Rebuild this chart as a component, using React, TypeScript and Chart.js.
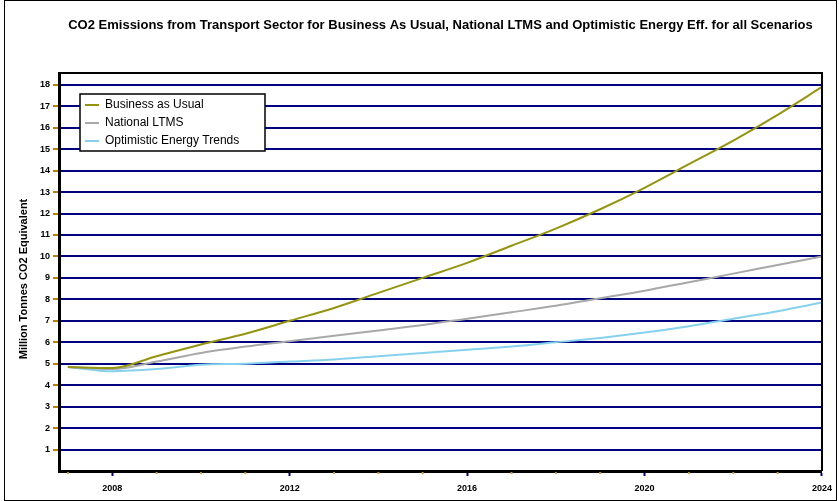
import React, { useEffect, useRef } from 'react';
import { Chart, registerables } from 'chart.js';

Chart.register(...registerables);

const TITLE =
  'CO2 Emissions from Transport Sector for Business As Usual, National LTMS and Optimistic Energy Eff. for all Scenarios';
const Y_TITLE = 'Million Tonnes CO2 Equivalent';

const years = [2007, 2008, 2009, 2010, 2011, 2012, 2013, 2014, 2015, 2016, 2017, 2018, 2019, 2020, 2021, 2022, 2023, 2024];
const seriesNames = ['Business as Usual', 'National LTMS', 'Optimistic Energy Trends'];
const seriesColors = ['#949410', '#a8a8a8', '#86d2ee'];
const bau = [4.85, 4.8, 5.35, 5.9, 6.4, 7.0, 7.6, 8.3, 9.0, 9.7, 10.5, 11.3, 12.2, 13.2, 14.3, 15.4, 16.6, 17.9];
const ltms = [4.85, 4.75, 5.1, 5.5, 5.8, 6.05, 6.3, 6.55, 6.8, 7.1, 7.4, 7.7, 8.05, 8.4, 8.8, 9.2, 9.6, 10.0];
const optimistic = [4.85, 4.65, 4.75, 4.95, 5.0, 5.1, 5.2, 5.35, 5.5, 5.65, 5.8, 6.0, 6.2, 6.45, 6.75, 7.1, 7.45, 7.85];
const xMajorTicks = [2008, 2012, 2016, 2020, 2024];
const yTickValues = [1, 2, 3, 4, 5, 6, 7, 8, 9, 10, 11, 12, 13, 14, 15, 16, 17, 18];

const FONT = '"Liberation Sans", Arial, sans-serif';

export default function App() {
  const ref = useRef<HTMLCanvasElement>(null);

  useEffect(() => {
    document.body.style.margin = '0';
    const canvas = ref.current!;
    const series = [bau, ltms, optimistic];

    const framePlugin = {
      id: 'frame',
      afterDraw(chart: any) {
        const ctx = chart.ctx as CanvasRenderingContext2D;
        const a = chart.chartArea;
        ctx.save();
        // plot frame (top & right)
        ctx.strokeStyle = '#000';
        ctx.lineWidth = 2;
        ctx.beginPath();
        ctx.moveTo(a.left, a.top);
        ctx.lineTo(a.right, a.top);
        ctx.lineTo(a.right, a.bottom);
        ctx.stroke();
        // outer frame
        ctx.lineWidth = 1;
        ctx.strokeRect(4.5, 0.5, chart.width - 7, chart.height - 1);
        // title
        ctx.fillStyle = '#000';
        ctx.font = `bold 13px ${FONT}`;
        ctx.textAlign = 'center';
        ctx.textBaseline = 'middle';
        ctx.fillText(TITLE, (a.left + a.right) / 2, 25);
        // y title
        ctx.save();
        ctx.translate(24, (a.top + a.bottom) / 2 + 7);
        ctx.rotate(-Math.PI / 2);
        ctx.font = `bold 11px ${FONT}`;
        ctx.fillText(Y_TITLE, 0, 0);
        ctx.restore();
        // minor x ticks
        const xs = chart.scales.x;
        ctx.strokeStyle = '#c89a3a';
        ctx.lineWidth = 2;
        years.forEach((yr) => {
          if (!xMajorTicks.includes(yr)) {
            const px = xs.getPixelForValue(yr);
            ctx.beginPath();
            ctx.moveTo(px, a.bottom + 1);
            ctx.lineTo(px, a.bottom + 3);
            ctx.stroke();
          }
        });
        // legend
        const lx = 80, ly = 94, lw = 185, lh = 57;
        ctx.fillStyle = '#fff';
        ctx.fillRect(lx, ly, lw, lh);
        ctx.strokeStyle = '#000';
        ctx.lineWidth = 1.5;
        ctx.strokeRect(lx, ly, lw, lh);
        ctx.textAlign = 'left';
        ctx.font = `12px ${FONT}`;
        chart.data.datasets.forEach((ds: any, i: number) => {
          const cy = ly + 11 + i * 18;
          ctx.strokeStyle = ds.borderColor;
          ctx.lineWidth = 2;
          ctx.beginPath();
          ctx.moveTo(lx + 5, cy);
          ctx.lineTo(lx + 19, cy);
          ctx.stroke();
          ctx.fillStyle = '#000';
          ctx.fillText(ds.label, lx + 25, cy);
        });
        ctx.restore();
      },
    };

    const chart = new Chart(canvas, {
      type: 'line',
      data: {
        datasets: series.map((vals, i) => ({
          label: seriesNames[i],
          data: years.map((yr, j) => ({ x: yr, y: vals[j] })),
          borderColor: seriesColors[i],
          backgroundColor: seriesColors[i],
          borderWidth: 2,
          pointRadius: 0,
          fill: false,
          cubicInterpolationMode: 'monotone',
        })),
      },
      options: {
        responsive: false,
        animation: false,
        devicePixelRatio: 1,
        layout: { padding: { top: 73, right: 17, left: 0, bottom: 0 } },
        plugins: {
          legend: { display: false },
          tooltip: { enabled: false },
          title: { display: false },
        },
        scales: {
          x: {
            type: 'linear',
            min: 2006.8,
            max: 2024,
            afterBuildTicks: (s: any) => {
              s.ticks = years.map((v) => ({ value: v }));
            },
            afterFit: (s: any) => {
              s.height = 30;
            },
            ticks: {
              autoSkip: false,
              maxRotation: 0,
              padding: 7,
              color: '#000',
              font: { size: 9, family: FONT, weight: 'bold' },
              callback: (v: any) => (xMajorTicks.includes(Number(v)) ? String(v) : ''),
            },
            grid: {
              drawOnChartArea: false,
              tickLength: 5,
              tickWidth: 2,
              tickColor: (c: any) => (xMajorTicks.includes(c.tick?.value) ? '#000080' : 'rgba(0,0,0,0)'),
            },
            border: { color: '#000', width: 3 },
          },
          y: {
            min: 0,
            max: 18.55,
            afterBuildTicks: (s: any) => {
              s.ticks = yTickValues.map((v) => ({ value: v }));
            },
            afterFit: (s: any) => {
              s.width = 59;
            },
            ticks: {
              padding: 3,
              color: '#000',
              font: { size: 9, family: FONT, weight: 'bold' },
            },
            grid: {
              color: '#000080',
              lineWidth: 2,
              tickLength: 6,
              tickWidth: 2,
              tickColor: '#c08000',
            },
            border: { color: '#000', width: 3 },
          },
        },
      },
      plugins: [framePlugin],
    } as any);

    return () => chart.destroy();
  }, []);

  return <canvas ref={ref} width={839} height={501} style={{ display: 'block' }} />;
}
